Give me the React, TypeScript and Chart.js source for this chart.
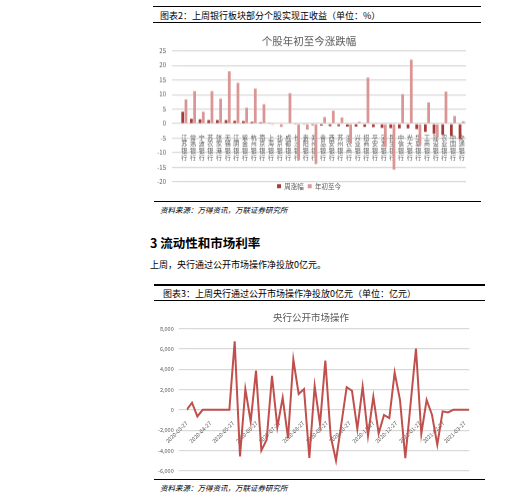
import { useEffect, useRef } from "react"
import type { CSSProperties, ReactNode } from "react"
import { Chart, registerables } from "chart.js"

Chart.register(...registerables)

const FONT = '"Noto Sans CJK SC", "Noto Sans", sans-serif'
const GRAY = "#595959"
const GRID = "#d9d9d9"

// 图表2：个股年初至今涨跌幅 (%)
const banks = [
  "江苏银行", "常熟银行", "宁波银行", "苏农银行", "张家港行", "无锡银行", "江阴银行",
  "紫金银行", "杭州银行", "南京银行", "上海银行", "北京银行", "成都银行", "长沙银行",
  "贵阳银行", "郑州银行", "青岛银行", "西安银行", "苏州银行", "渝农商行", "兴业银行",
  "招商银行", "平安银行", "浦发银行", "民生银行", "中信银行", "光大银行", "华夏银行",
  "工商银行", "建设银行", "农业银行", "中国银行", "交通银行",
]
const weekChange = [
  4.1, 1.7, 1.5, 1.2, 1.2, 1.2, 1.0, 0.9, 0.6, 0.5, 0.3, 0.2, 0.0, -0.1, -0.3, -0.5, -0.7,
  -0.8, -0.8, -1.0, -1.0, -1.1, -1.2, -1.4, -1.5, -1.6, -1.6, -1.9, -2.8, -3.5, -3.8, -4.1, -5.3,
]
const ytdChange = [
  8.3, 11.2, 4.1, 11.2, 8.6, 18.0, 14.0, 5.5, 12.0, 6.7, -0.4, -1.1, 10.5, -12.5, -2.0, -13.9, 2.3,
  4.4, 2.1, -6.9, 0.6, 15.8, -0.3, -8.0, -15.8, 10.1, 22.0, -7.5, 7.3, -4.6, 11.0, 2.6, 0.8,
]

// 图表3：央行公开市场操作 (亿元)，周度
const startDate = "2020-03-27"
const monthTicks = [
  "2020-03-27", "2020-04-27", "2020-05-27", "2020-06-27", "2020-07-27", "2020-08-27", "2020-09-27",
  "2020-10-27", "2020-11-27", "2020-12-27", "2021-01-27", "2021-02-27", "2021-03-27",
]
const netInjection = [
  0, 700, -650, 0, 0, 0, 0, 0, 0, 6750, -4600, 2050, -1150, 3870, -4000, -2950, 3350, -1700,
  1200, -2800, 4950, 1570, 2050, -4750, 2350, -1420, 4850, -2600, -5000, -1400, 2230, 1880,
  -1900, 2300, -2550, 1300, -2330, -500, -820, 3680, 980, -4760, 650, 6050, -2360, 980, -480,
  -3440, -150, -250, 0, 0, 0, 0,
]

const DAY = 86400000
const dayOf = (d: string) => (Date.parse(d) - Date.parse(startDate)) / DAY

function Txt({ x, y, size, style, children }: { x: number; y: number; size: number; style?: CSSProperties; children: ReactNode }) {
  return (
    <div
      style={{
        position: "absolute", left: x, top: y, fontSize: size, lineHeight: 1,
        transform: "translateY(-50%)", whiteSpace: "nowrap", fontFamily: FONT, color: "#000", ...style,
      }}
    >
      {children}
    </div>
  )
}

function Rule({ x1, x2, y, h }: { x1: number; x2: number; y: number; h: number }) {
  return <div style={{ position: "absolute", left: x1, top: y - h / 2, width: x2 - x1, height: h, background: "#000" }} />
}

function BankChart() {
  const chartRef = useRef<HTMLCanvasElement>(null)
  const chartInstance = useRef<Chart | null>(null)

  useEffect(() => {
    if (!chartRef.current) return
    if (chartInstance.current) chartInstance.current.destroy()

    chartInstance.current = new Chart(chartRef.current, {
      type: "bar",
      data: {
        labels: banks.map((b) => b.split("")),
        datasets: [
          { label: "周涨幅", data: weekChange, backgroundColor: "#a53c3b", categoryPercentage: 0.75, barPercentage: 0.85 },
          { label: "年初至今", data: ytdChange, backgroundColor: "#d99694", categoryPercentage: 0.75, barPercentage: 0.85 },
        ],
      },
      options: {
        animation: false,
        responsive: true,
        maintainAspectRatio: false,
        layout: { padding: { left: 2, right: 19, top: 0, bottom: 0 } },
        plugins: {
          title: {
            display: true,
            text: "个股年初至今涨跌幅",
            color: GRAY,
            font: { size: 10.5, weight: "normal", family: FONT },
            padding: { top: 6.7, bottom: 3.4 },
          },
          legend: {
            position: "bottom",
            labels: {
              boxWidth: 4,
              boxHeight: 4,
              padding: 1,
              color: GRAY,
              font: { size: 6.5, lineHeight: 1, family: FONT },
              // a little extra room between the two legend items
              generateLabels: (chart) => {
                const items = Chart.defaults.plugins.legend.labels.generateLabels(chart)
                return items.map((it, i) => (i < items.length - 1 ? { ...it, text: it.text + "  " } : it))
              },
            },
          },
          tooltip: { enabled: false },
        },
        scales: {
          x: {
            position: { y: 0 },
            grid: { display: false },
            border: { display: false },
            ticks: { color: GRAY, font: { size: 6, lineHeight: 1.12, family: FONT }, padding: 2, autoSkip: false, maxRotation: 0 },
          },
          y: {
            min: -20,
            max: 25,
            ticks: { stepSize: 5, color: GRAY, font: { size: 6, family: FONT }, padding: 6 },
            grid: { color: GRID, lineWidth: 1.2 },
            border: { display: false },
            afterFit: (s) => { s.width = 28 },
          },
        },
      },
    })

    return () => {
      if (chartInstance.current) chartInstance.current.destroy()
      chartInstance.current = null
    }
  }, [])

  return (
    <div style={{ position: "absolute", left: 150, top: 28, width: 335, height: 170.5 }}>
      <canvas ref={chartRef} />
    </div>
  )
}

function OmoChart() {
  const chartRef = useRef<HTMLCanvasElement>(null)
  const chartInstance = useRef<Chart | null>(null)

  useEffect(() => {
    if (!chartRef.current) return
    if (chartInstance.current) chartInstance.current.destroy()

    const tickDays = monthTicks.map(dayOf)

    chartInstance.current = new Chart(chartRef.current, {
      type: "line",
      data: {
        datasets: [
          {
            label: "公开市场操作",
            data: netInjection.map((v, i) => ({ x: i * 7, y: v })),
            borderColor: "#c0504d",
            borderWidth: 2,
            pointRadius: 0,
            tension: 0,
          },
        ],
      },
      options: {
        animation: false,
        responsive: true,
        maintainAspectRatio: false,
        layout: { padding: { left: 2.7, right: 20.7, top: 0, bottom: 8 } },
        plugins: {
          title: {
            display: true,
            text: "央行公开市场操作",
            color: GRAY,
            font: { size: 9.5, weight: "normal", family: FONT },
            padding: { top: 9.6, bottom: 5.7 },
          },
          legend: { display: false },
          tooltip: { enabled: false },
        },
        scales: {
          x: {
            type: "linear",
            min: 0,
            max: (netInjection.length - 1) * 7,
            position: { y: 0 },
            grid: { display: false },
            border: { display: false },
            afterBuildTicks: (s) => { s.ticks = tickDays.map((v) => ({ value: v })) },
            ticks: {
              autoSkip: false,
              minRotation: 45,
              maxRotation: 45,
              color: GRAY,
              font: { size: 5.5, family: FONT },
              padding: 2,
              callback: (_v, i) => monthTicks[i],
            },
          },
          y: {
            min: -6000,
            max: 8000,
            ticks: { stepSize: 2000, color: GRAY, font: { size: 5.5, family: FONT }, padding: 5 },
            grid: { color: GRID, lineWidth: 1.2 },
            border: { display: false },
            afterFit: (s) => { s.width = 34 },
          },
        },
      },
    })

    return () => {
      if (chartInstance.current) chartInstance.current.destroy()
      chartInstance.current = null
    }
  }, [])

  return (
    <div style={{ position: "absolute", left: 150, top: 302, width: 340, height: 177 }}>
      <canvas ref={chartRef} />
    </div>
  )
}

export default function App() {
  return (
    <div style={{ position: "fixed", left: 0, top: 0, width: 523, height: 500, background: "#fff", overflow: "hidden" }}>
      <Rule x1={153} x2={481} y={6.7} h={1.4} />
      <Txt x={160} y={15} size={9}>图表2：上周银行板块部分个股实现正收益（单位：%）</Txt>
      <Rule x1={153} x2={481} y={22.3} h={1} />
      <BankChart />
      <Rule x1={154} x2={481} y={201.7} h={1.3} />
      <Txt x={160} y={210} size={7.5} style={{ fontStyle: "italic" }}>资料来源：万得资讯，万联证券研究所</Txt>
      <Txt x={150} y={243} size={12.5} style={{ fontWeight: "bold" }}>3 流动性和市场利率</Txt>
      <Txt x={150} y={264} size={9}>上周，央行通过公开市场操作净投放0亿元。</Txt>
      <Rule x1={154} x2={485} y={285} h={1.4} />
      <Txt x={163} y={293} size={9}>图表3：上周央行通过公开市场操作净投放0亿元（单位：亿元）</Txt>
      <Rule x1={154} x2={485} y={300} h={1} />
      <OmoChart />
      <Rule x1={154} x2={485} y={479.3} h={1.5} />
      <Txt x={160} y={488} size={7.5} style={{ fontStyle: "italic" }}>资料来源：万得资讯，万联证券研究所</Txt>
    </div>
  )
}
